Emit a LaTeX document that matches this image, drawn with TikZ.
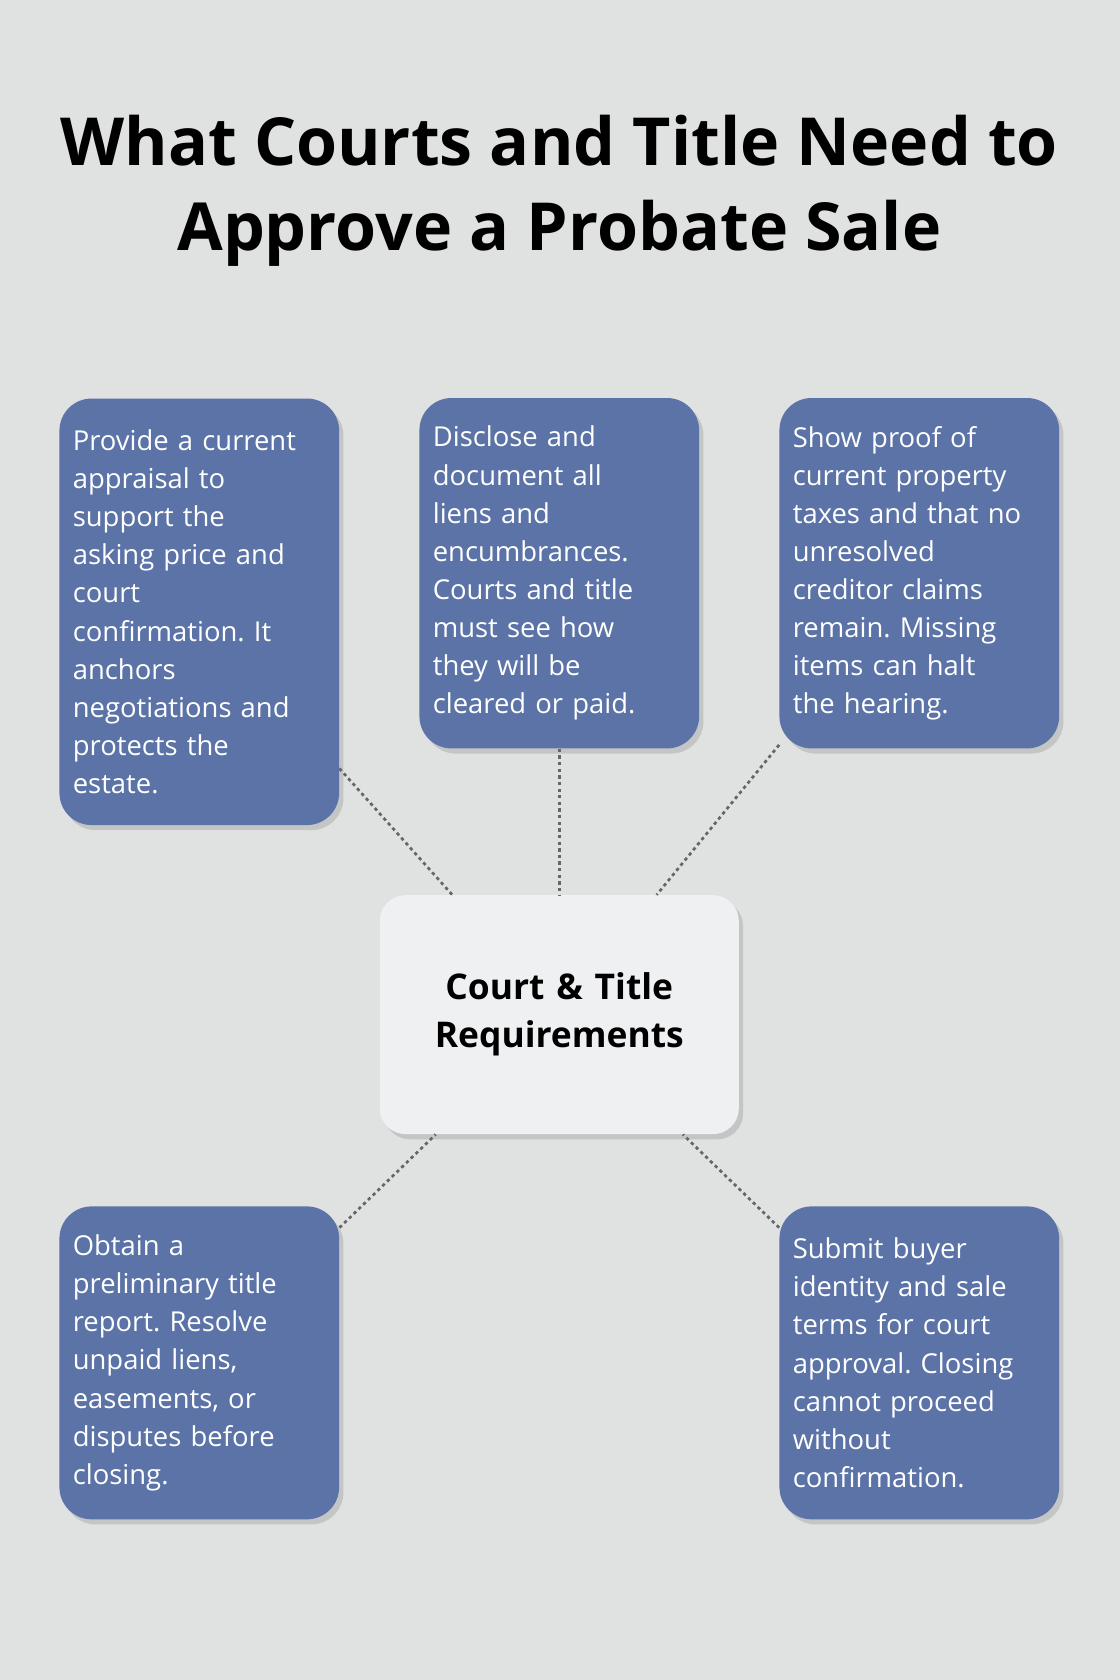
\documentclass[tikz,border=0pt]{standalone}
\usepackage{fontspec}
\setmainfont{Open Sans}
\usetikzlibrary{positioning, shadows}
\definecolor{bgcol}{HTML}{E0E1E1}
\definecolor{cardcol}{HTML}{5B73A6}
\definecolor{hubcol}{HTML}{EFF0F2}
\frenchspacing
\begin{document}
\begin{tikzpicture}[
    x=0.025cm, y=-0.025cm,
    card/.style={
        rectangle,
        rounded corners=0.75cm,
        fill=cardcol,
        minimum width=6.525cm,
        text width=5.9cm,
        align=left,
        text=white,
        font=\fontsize{18.2}{25.3}\selectfont,
        drop shadow={shadow xshift=0.1cm, shadow yshift=-0.12cm, opacity=0.12, fill=black}
    },
    hub/.style={
        card,
        fill=hubcol,
        text=black,
        minimum width=8.375cm,
        minimum height=5.575cm,
        text width=7cm,
        align=center,
        rounded corners=0.6cm,
        font=\bfseries\fontsize{23.5}{32}\selectfont
    },
    link/.style={dash pattern=on 2.2pt off 2.2pt, line width=1.8pt, draw=black!60}
]

% background and frame
\fill[bgcol] (0,0) rectangle (1045,1568);
\useasboundingbox (0,0) rectangle (1045,1568);

% title
\node[font=\bfseries\fontsize{44}{57}\selectfont, align=center] (title) at (522,178)
    {What Courts and Title Need to\\Approve a Probate Sale};

% central node
\node[hub] (court) at (522,947) {Court \& Title\\Requirements};

% upper row of requirements
\node[card, minimum height=9.95cm] (appraisal) at (186,571)
    {Provide a current\\appraisal to\\support the\\asking price and\\court\\confirmation. It\\anchors\\negotiations and\\protects the\\estate.};
\node[card, minimum height=8.175cm] (liens) at (522,535)
    {Disclose and\\document all\\liens and\\encumbrances.\\Courts and title\\must see how\\they will be\\cleared or paid.};
\node[card, minimum height=8.175cm] (taxes) at (858,535)
    {Show proof of\\current property\\taxes and that no\\unresolved\\creditor claims\\remain. Missing\\items can halt\\the hearing.};

% lower row of requirements
\node[card, minimum height=7.3cm] (report) at (186,1272)
    {Obtain a\\preliminary title\\report. Resolve\\unpaid liens,\\easements, or\\disputes before\\closing.};
\node[card, minimum height=7.3cm] (buyer) at (858,1272)
    {Submit buyer\\identity and sale\\terms for court\\approval. Closing\\cannot proceed\\without\\confirmation.};

% dotted links to the hub
\foreach \req in {appraisal, liens, taxes, report, buyer}
    \draw[link] (\req) -- (court);

\end{tikzpicture}
\end{document}
